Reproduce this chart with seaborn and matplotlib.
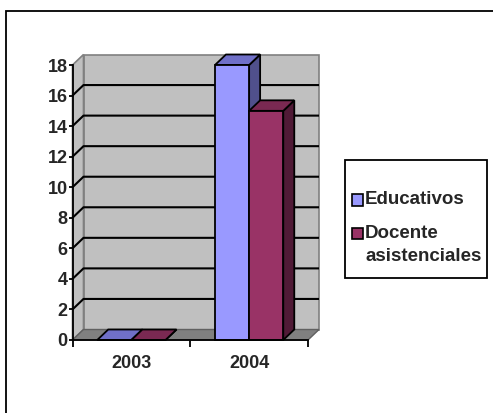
import matplotlib
matplotlib.use("Agg")
import matplotlib.pyplot as plt
from matplotlib.patches import Polygon, Rectangle
from matplotlib.colors import to_hex
import pandas as pd
import seaborn as sns

# ---- data ----
years = ["2003", "2004"]
educativos = [0, 18]
docente = [0, 15]
series_names = ["Educativos", "Docente\nasistenciales"]
y_ticks = list(range(0, 19, 2))

# ---- colours (front, top, side faces) ----
front_colors = ["#9999FF", "#993366"]
top_colors = ["#7070C8", "#7A2952"]
side_colors = ["#50508C", "#501A36"]
wall_color = "#C0C0C0"
floor_color = "#808080"

df = pd.DataFrame({
    "Año": years * 2,
    "Serie": [series_names[0]] * len(years) + [series_names[1]] * len(years),
    "Valor": educativos + docente,
})

sns.set_style("white")
plt.rcParams["font.family"] = ["Liberation Sans", "DejaVu Sans"]
plt.rcParams["font.weight"] = "bold"

W, H = 493, 413
fig = plt.figure(figsize=(W / 100, H / 100), dpi=100)

# plot area in pixel terms
left_px, right_px, top_px, bottom_px = 72.5, 320.0, 55.0, 340.0
front_right_px = 308.0
y18_px = 65.0
ax = fig.add_axes([left_px / W, (H - bottom_px) / H,
                   (right_px - left_px) / W, (bottom_px - top_px) / H])
ax.patch.set_alpha(0)

# bars (front faces)
sns.barplot(data=df, x="Año", y="Valor", hue="Serie", palette=front_colors,
            width=0.58, saturation=1, edgecolor="black", linewidth=1.3,
            legend=False, ax=ax)
bar_patches = sorted(list(ax.patches), key=lambda p: p.get_x())

px_x = (front_right_px - left_px) / 2.0
px_y = (bottom_px - y18_px) / 18.0
ax.set_xlim(-0.5, -0.5 + (right_px - left_px) / px_x)
ax.set_ylim(0, (bottom_px - top_px) / px_y)

# depth offset of the 3-D box, in data units
ddx = 11.0 / px_x
ddy = 10.5 / px_y
x0, x1, ytop = -0.5, len(years) - 0.5, max(y_ticks)

# walls and floor
ax.add_patch(Rectangle((x0 + ddx, ddy), x1 - x0, ytop, facecolor=wall_color,
                       edgecolor="#808080", lw=1.2, zorder=0.5, clip_on=False))
ax.add_patch(Polygon([(x0, 0), (x0 + ddx, ddy), (x0 + ddx, ytop + ddy), (x0, ytop)],
                     closed=True, facecolor=wall_color, edgecolor="#808080",
                     lw=1.2, zorder=0.5, clip_on=False))
ax.add_patch(Polygon([(x0, 0), (x1, 0), (x1 + ddx, ddy), (x0 + ddx, ddy)],
                     closed=True, facecolor=floor_color, edgecolor="#606060",
                     lw=1.0, zorder=0.6, clip_on=False))
for v in y_ticks[1:-1]:
    ax.plot([x0, x0 + ddx, x1 + ddx], [v, v + ddy, v + ddy], color="black",
            lw=1.5, zorder=0.8, solid_capstyle="butt", clip_on=False)

# side and top faces of each bar, drawn back-to-front
for k, p in enumerate(bar_patches):
    bx, bw, bh = p.get_x(), p.get_width(), p.get_height()
    idx = [c.lower() for c in front_colors].index(to_hex(p.get_facecolor()).lower())
    z = 2 + 3 * k
    ax.add_patch(Polygon([(bx + bw, 0), (bx + bw + ddx, ddy), (bx + bw + ddx, bh + ddy), (bx + bw, bh)],
                         closed=True, facecolor=side_colors[idx], edgecolor="black",
                         lw=1.3, zorder=z, clip_on=False))
    ax.add_patch(Polygon([(bx, bh), (bx + bw, bh), (bx + bw + ddx, bh + ddy), (bx + ddx, bh + ddy)],
                         closed=True, facecolor=top_colors[idx], edgecolor="black",
                         lw=1.3, zorder=z + 1, clip_on=False))
    p.set_zorder(z + 2)
    p.set_clip_on(False)

# axes lines and ticks
for s in ["top", "right"]:
    ax.spines[s].set_visible(False)
ax.spines["left"].set_bounds(0, ytop)
ax.spines["bottom"].set_bounds(x0, x1)
for s in ["left", "bottom"]:
    ax.spines[s].set_color("black")
    ax.spines[s].set_linewidth(1.3)
    ax.spines[s].set_zorder(50)

ax.set_yticks(y_ticks)
ax.set_yticklabels([str(v) for v in y_ticks])
ax.set_xticks(range(len(years)))
ax.set_xticklabels(years)
ax.set_xticks([x0 + i for i in range(len(years) + 1)], minor=True)
ax.tick_params(axis="y", direction="out", length=3, width=1.3, color="black",
               pad=0.5, labelsize=13, left=True)
ax.tick_params(axis="x", which="major", length=0, pad=11, labelsize=13)
ax.tick_params(axis="x", which="minor", direction="out", length=5, width=1.3,
               color="black", bottom=True)
for lab in ax.get_xticklabels() + ax.get_yticklabels():
    lab.set_fontweight("bold")
ax.set_xlabel("")
ax.set_ylabel("")


def fpx(x, y):
    return (x / W, 1 - y / H)


# legend box
lx0, ly0, lx1, ly1 = 345, 160, 487, 278
fig.patches.append(Rectangle(fpx(lx0, ly1), (lx1 - lx0) / W, (ly1 - ly0) / H,
                             transform=fig.transFigure, facecolor="white",
                             edgecolor="black", lw=1.3))
legend_rows = [(200, series_names[0]), (234, series_names[1])]
for i, (ry, name) in enumerate(legend_rows):
    fig.patches.append(Rectangle(fpx(352, ry + 5.5), 10.5 / W, 11 / H,
                                 transform=fig.transFigure,
                                 facecolor=front_colors[i], edgecolor="black", lw=1.2))
    multi = "\n" in name
    fig.text(*fpx(365, ry - 9.5 if multi else ry), name, ha="left",
             va="top" if multi else "center", fontsize=13.5,
             fontweight="bold", linespacing=1.5, transform=fig.transFigure)

# outer frame
fig.patches.append(Rectangle(fpx(6, 430), 600 / W, 419 / H,
                             transform=fig.transFigure, facecolor="none",
                             edgecolor="black", lw=1.3))

fig.savefig("out.png", dpi=100)
